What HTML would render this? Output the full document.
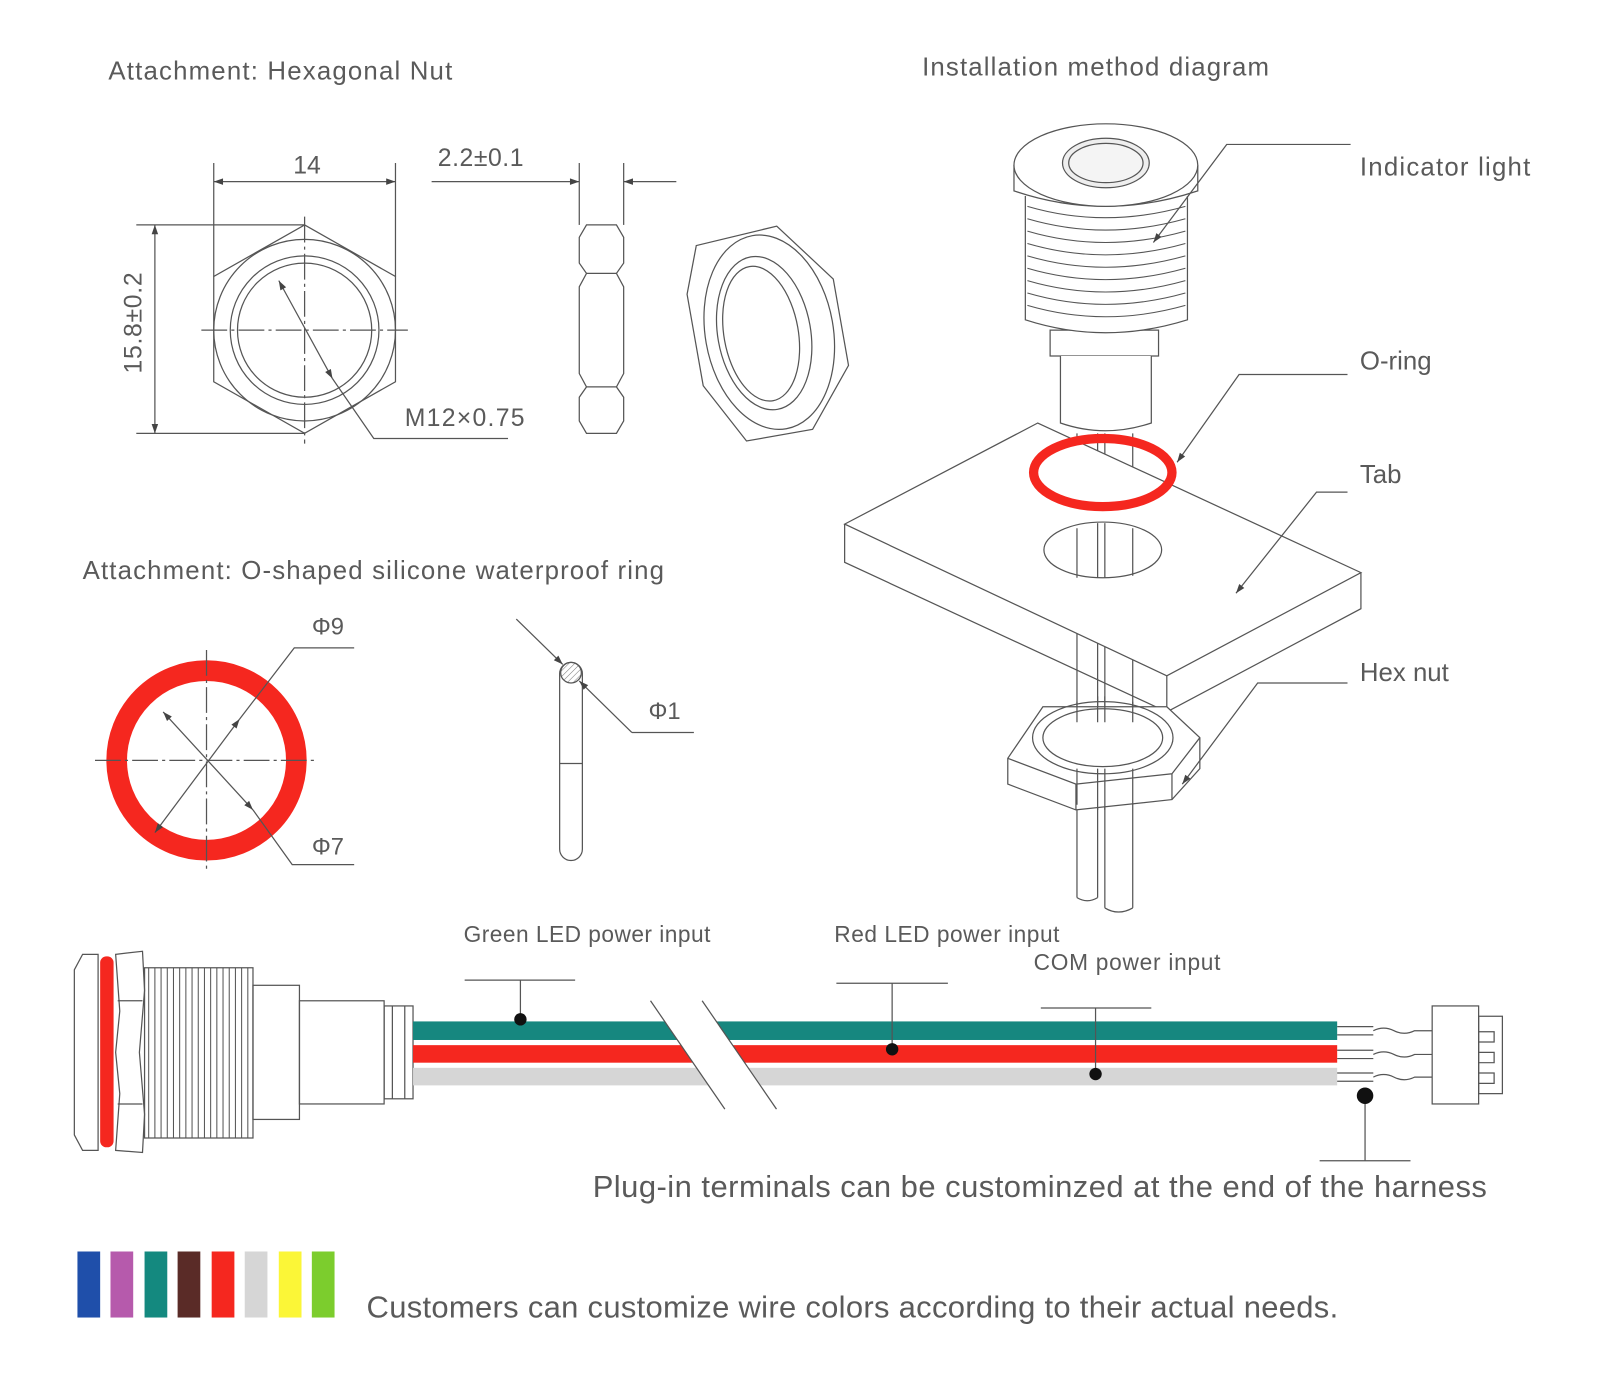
<!DOCTYPE html>
<html><head><meta charset="utf-8"><style>html,body{margin:0;padding:0;background:#fff}svg{display:block}text{font-family:"Liberation Sans",sans-serif;fill:#5a5a5a}</style></head><body>
<svg width="1617" height="1398" viewBox="0 0 1566 1355" preserveAspectRatio="none" xmlns="http://www.w3.org/2000/svg">
<defs>
<marker id="a" viewBox="0 0 10 10" refX="10" refY="5" markerWidth="22" markerHeight="9" orient="auto-start-reverse" markerUnits="userSpaceOnUse"><path d="M0,1.5 L10,5 L0,8.5z" fill="#444"/></marker>
<pattern id="h" width="4" height="4" patternUnits="userSpaceOnUse" patternTransform="rotate(45)"><line x1="0" y1="0" x2="0" y2="4" stroke="#777" stroke-width="1"/></pattern>
</defs>
<g stroke="#555" stroke-width="1.2" fill="none">
<polygon points="295,218 383,268 383,370 295,420 207,370 207,268"/>
<circle cx="295" cy="320" r="88"/>
<circle cx="295" cy="320" r="72"/><circle cx="295" cy="320" r="65"/>
<line x1="195" y1="320" x2="395" y2="320" stroke-dasharray="25 4 3 4"/>
<line x1="295" y1="210" x2="295" y2="430" stroke-dasharray="25 4 3 4"/>
<line x1="207" y1="158" x2="207" y2="268"/><line x1="383" y1="158" x2="383" y2="268"/>
<line x1="207" y1="176" x2="383" y2="176" marker-start="url(#a)" marker-end="url(#a)"/>
<line x1="132" y1="218" x2="295" y2="218"/><line x1="132" y1="420" x2="295" y2="420"/>
<line x1="150" y1="218" x2="150" y2="420" marker-start="url(#a)" marker-end="url(#a)"/>
<line x1="270" y1="272" x2="322" y2="367" marker-start="url(#a)" marker-end="url(#a)"/>
<polyline points="322,367 362,425 492,425"/>
<path d="M561,230 L568,218 L597,218 L604,230 L604,255 L597,265 L604,278 L604,362 L597,375 L604,385 L604,408 L597,420 L568,420 L561,408 L561,385 L568,375 L561,362 L561,278 L568,265 L561,255Z"/>
<line x1="568" y1="265" x2="597" y2="265"/><line x1="568" y1="375" x2="597" y2="375"/>
<line x1="561" y1="158" x2="561" y2="218"/><line x1="604" y1="158" x2="604" y2="218"/>
<line x1="418" y1="176" x2="561" y2="176" marker-end="url(#a)"/><line x1="655" y1="176" x2="604" y2="176" marker-end="url(#a)"/>
<g transform="translate(745,322) rotate(-10)">
<polygon points="-55,-95 25,-100 70,-40 70,45 25,100 -40,100 -72,40 -72,-50"/>
<ellipse cx="0" cy="0" rx="62" ry="95"/>
<ellipse cx="-5" cy="0" rx="45" ry="75"/><ellipse cx="-8" cy="0" rx="36" ry="66"/>
</g>
<circle cx="200" cy="737" r="87" stroke="#f5271f" stroke-width="20"/>
<line x1="92" y1="737" x2="308" y2="737" stroke-dasharray="25 4 3 4"/>
<line x1="200" y1="630" x2="200" y2="845" stroke-dasharray="25 4 3 4"/>
<line x1="158" y1="690" x2="245" y2="785" marker-start="url(#a)" marker-end="url(#a)"/>
<line x1="232" y1="697" x2="150" y2="807" marker-start="url(#a)" marker-end="url(#a)"/>
<polyline points="232,697 285,628 343,628"/>
<polyline points="245,785 283,838 343,838"/>
<rect x="542" y="642" width="22" height="192" rx="11"/>
<line x1="542" y1="740" x2="564" y2="740"/>
<circle cx="553" cy="652" r="10" fill="url(#h)"/>
<line x1="500" y1="600" x2="545" y2="644" marker-end="url(#a)"/>
<line x1="612" y1="710" x2="561" y2="660" marker-end="url(#a)"/>
<polyline points="612,710 672,710"/>
<line x1="1043" y1="420" x2="1043" y2="870"/><line x1="1063" y1="420" x2="1063" y2="870"/>
<line x1="1070" y1="420" x2="1070" y2="880"/><line x1="1097" y1="420" x2="1097" y2="880"/>
<path d="M1043,870 Q1053,876 1063,870 M1070,880 Q1083,888 1097,880"/>
<path d="M818,508 L1005,410 L1318,555 L1130,655Z" fill="#fff"/>
<path d="M818,508 L818,545 L1130,690 L1318,590 L1318,555 M1130,655 L1130,690"/>
<ellipse cx="1068" cy="533" rx="57" ry="27" fill="#fff"/>
<path d="M1043,512 L1043,560 M1063,507 L1063,560 M1070,507 L1070,560 M1097,512 L1097,558"/>
<path d="M1017,320 L1122,320 L1122,345 L1017,345Z" fill="#fff"/>
<path d="M1027,345 L1027,410 Q1070,425 1115,410 L1115,345" fill="#fff"/>
<path d="M993,190 L993,310 Q1070,335 1150,310 L1150,190" fill="#fff"/>
<g stroke-width="1">
<path d="M995,200 Q1070,222 1148,200 M995,212 Q1070,234 1148,212 M995,224 Q1070,246 1148,224 M995,236 Q1070,258 1148,236 M995,248 Q1070,270 1148,248 M995,260 Q1070,282 1148,260 M995,272 Q1070,294 1148,272 M995,284 Q1070,306 1148,284 M995,296 Q1070,318 1148,296"/>
</g>
<path d="M982,160 L982,185 Q1070,215 1160,185 L1160,160" fill="#fff"/>
<ellipse cx="1071" cy="160" rx="89" ry="40" fill="#fff"/>
<ellipse cx="1071" cy="158" rx="42" ry="24" fill="#eee"/>
<ellipse cx="1071" cy="158" rx="36" ry="19" fill="#f4f4f4"/>
<ellipse cx="1068" cy="458" rx="67" ry="33" stroke="#f5271f" stroke-width="9"/>
<path d="M976,735 L976,760 L1042,785 L1135,775 L1162,745 L1162,715 L1130,685 L1010,685 Z" fill="#fff"/>
<ellipse cx="1068" cy="715" rx="68" ry="35"/><ellipse cx="1068" cy="715" rx="58" ry="28"/>
<path d="M976,735 L1042,760 L1135,750 L1162,715 M1042,760 L1042,785 M1135,750 L1135,775"/>
<path d="M1043,745 L1043,780 M1063,745 L1063,785 M1070,745 L1070,785 M1097,745 L1097,780"/>
<path d="M1043,680 L1043,700 M1063,675 L1063,700 M1070,675 L1070,700 M1097,680 L1097,700"/>
<polyline points="1117,235 1188,140 1308,140" marker-start="url(#a)"/>
<polyline points="1140,448 1200,363 1305,363" marker-start="url(#a)"/>
<polyline points="1197,575 1275,477 1305,477" marker-start="url(#a)"/>
<polyline points="1145,760 1218,662 1305,662" marker-start="url(#a)"/>
<path d="M80,925 L95,925 L95,1115 L80,1115 L72,1100 L72,940Z"/>
<rect x="97" y="927" width="13" height="185" rx="6" fill="#f5271f" stroke="none"/>
<path d="M112,925 L138,922 L140,960 L135,1020 L140,1080 L138,1117 L112,1115 L116,1060 L112,1020 L116,980Z"/>
<path d="M114,970 L138,970 M114,1070 L138,1070"/>
<rect x="140" y="938" width="105" height="165"/>
<g stroke-width="1"><path d="M144,938 L144,1103 M150,938 L150,1103 M156,938 L156,1103 M162,938 L162,1103 M168,938 L168,1103 M174,938 L174,1103 M180,938 L180,1103 M186,938 L186,1103 M192,938 L192,1103 M198,938 L198,1103 M204,938 L204,1103 M210,938 L210,1103 M216,938 L216,1103 M222,938 L222,1103 M228,938 L228,1103 M234,938 L234,1103 M240,938 L240,1103"/></g>
<rect x="245" y="955" width="45" height="130"/>
<rect x="290" y="970" width="82" height="100"/>
<rect x="372" y="975" width="28" height="90"/>
<path d="M380,975 L380,1065 M392,975 L392,1065"/>
</g>
<rect x="400" y="990" width="895" height="18" fill="#16877f"/>
<rect x="400" y="1013" width="895" height="17" fill="#f5271f"/>
<rect x="400" y="1035" width="895" height="17" fill="#d6d6d6"/>
<polygon points="630,970 680,970 752,1075 702,1075" fill="#fff"/>
<g stroke="#555" stroke-width="1.2" fill="none">
<line x1="630" y1="970" x2="702" y2="1075"/><line x1="680" y1="970" x2="752" y2="1075"/>
<path d="M1295,995 L1330,995 M1295,1003 L1330,1003 M1295,1018 L1330,1018 M1295,1026 L1330,1026 M1295,1040 L1330,1040 M1295,1048 L1330,1048"/>
<path d="M1330,999 q10,-5 20,0 t20,0 l17,0 M1330,1022 q10,-5 20,0 t20,0 l17,0 M1330,1044 q10,-5 20,0 t20,0 l17,0"/>
<rect x="1387" y="975" width="45" height="95"/>
<rect x="1432" y="985" width="23" height="75"/>
<path d="M1432,1000 L1447,1000 L1447,1010 L1432,1010 M1432,1020 L1447,1020 L1447,1030 L1432,1030 M1432,1040 L1447,1040 L1447,1050 L1432,1050"/>
<path d="M450,950 L557,950 M504,950 L504,988 M810,953 L918,953 M864,953 L864,1017 M1008,977 L1115,977 M1061,977 L1061,1041 M1322,1062 L1322,1125 M1278,1125 L1366,1125"/>
</g>
<g fill="#111"><circle cx="504" cy="988" r="6"/><circle cx="864" cy="1017" r="6"/><circle cx="1061" cy="1041" r="6"/><circle cx="1322" cy="1062" r="8"/></g>
<rect x="75" y="1213" width="22" height="64" fill="#1f4faa"/>
<rect x="107" y="1213" width="22" height="64" fill="#b65aac"/>
<rect x="140" y="1213" width="22" height="64" fill="#14897f"/>
<rect x="172" y="1213" width="22" height="64" fill="#5a2b27"/>
<rect x="205" y="1213" width="22" height="64" fill="#f5271f"/>
<rect x="237" y="1213" width="22" height="64" fill="#d6d6d6"/>
<rect x="270" y="1213" width="22" height="64" fill="#fbf637"/>
<rect x="302" y="1213" width="22" height="64" fill="#7ccd2d"/>
<text x="105" y="77" font-size="25" textLength="333">Attachment: Hexagonal Nut</text>
<text x="893" y="73" font-size="25" textLength="336">Installation method diagram</text>
<text x="284" y="168" font-size="24">14</text>
<text x="424" y="161" font-size="24" textLength="83">2.2±0.1</text>
<text transform="translate(137,362) rotate(-90)" font-size="24" textLength="98">15.8±0.2</text>
<text x="392" y="413" font-size="24" textLength="116">M12×0.75</text>
<text x="80" y="561" font-size="25" textLength="563">Attachment: O-shaped silicone waterproof ring</text>
<text x="302" y="615" font-size="23">Φ9</text>
<text x="302" y="828" font-size="23">Φ7</text>
<text x="628" y="697" font-size="23">Φ1</text>
<text x="1317" y="170" font-size="25" textLength="165">Indicator light</text>
<text x="1317" y="358" font-size="25">O-ring</text>
<text x="1317" y="468" font-size="25">Tab</text>
<text x="1317" y="660" font-size="25">Hex nut</text>
<text x="449" y="913" font-size="22" textLength="239">Green LED power input</text>
<text x="808" y="913" font-size="22" textLength="218">Red LED power input</text>
<text x="1001" y="940" font-size="22" textLength="181">COM power input</text>
<text x="574" y="1160" font-size="30" textLength="866">Plug-in terminals can be custominzed at the end of the harness</text>
<text x="355" y="1277" font-size="30" textLength="941">Customers can customize wire colors according to their actual needs.</text>
</svg>
</body></html>
